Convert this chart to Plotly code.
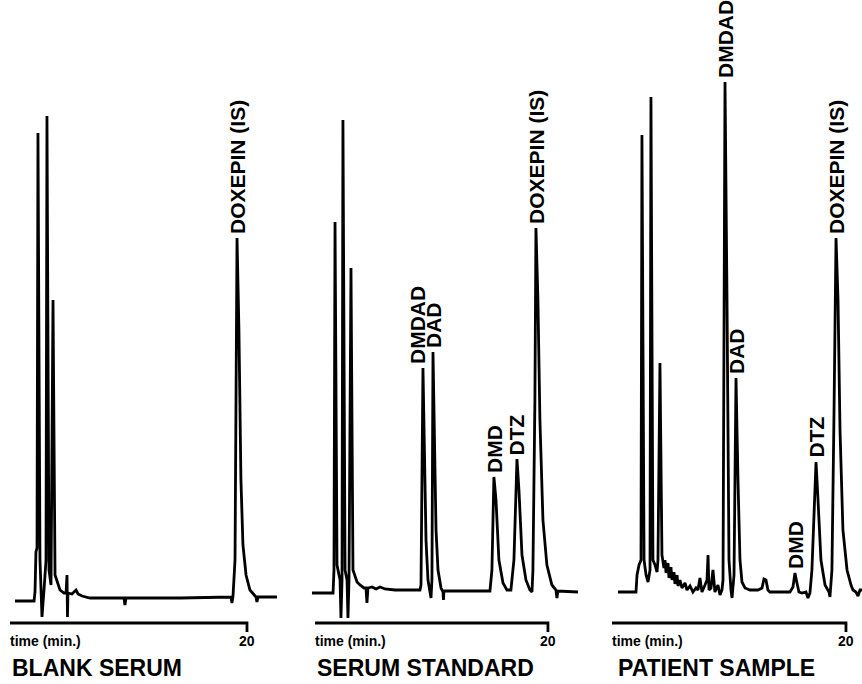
import plotly.graph_objects as go

# ---------------- data (time in min, detector response in arbitrary units) ----------------
blank_time = [0.42, 2.03, 2.11, 2.19, 2.28, 2.36, 2.53, 2.70, 2.87, 3.04, 3.12, 3.29, 3.46, 3.63, 3.80, 3.97,
              4.22, 4.56, 4.73, 4.81, 4.85, 4.89, 5.23, 5.57, 5.74, 6.08, 6.75, 8.44, 9.62, 9.70, 9.79, 14.35,
              18.65, 18.73, 18.82, 18.99, 19.16, 19.32, 19.49, 19.66, 19.92, 20.25, 20.59, 20.76, 20.84, 20.93, 22.53]
blank_signal = [-0.6, -0.6, 1.2, 9.2, 10.0, 93.0, 7.6, -3.8, 1.6, 7.6, 96.4, 5.6, 2.6, 59.6, 4.6, 3.2,
                1.6, 1.0, 1.0, 4.6, -3.8, 1.0, 0.8, 1.6, 0.8, 0.4, 0.0, 0.0, 0.0, -1.4, 0.0, 0.0,
                0.2, -1.0, 0.4, 7.6, 72.0, 53.6, 23.6, 10.6, 4.6, 1.6, 0.6, 0.2, -0.8, 0.2, 0.2]

standard_time = [-0.26, 1.55, 1.63, 1.72, 1.89, 2.15, 2.23, 2.32, 2.40, 2.58, 2.75, 2.83, 2.92, 3.09, 3.26,
                 3.61, 3.86, 4.21, 4.38, 4.46, 4.55, 4.89, 5.24, 5.58, 6.01, 6.87, 9.01, 9.10, 9.27, 9.53,
                 9.70, 9.87, 9.96, 10.04, 10.13, 10.39, 10.56, 10.82, 10.99, 11.03, 11.07, 15.02, 15.19,
                 15.36, 15.54, 15.79, 16.14, 16.48, 16.82, 17.08, 17.25, 17.34, 17.51, 17.77, 18.11, 18.45,
                 18.63, 18.71, 18.88, 18.97, 19.14, 19.31, 19.57, 19.91, 20.34, 20.69, 20.77, 20.86, 22.58]
standard_signal = [1.0, 1.0, 5.6, 75.2, 6.6, 3.6, -4.0, 3.6, 95.6, 5.6, 3.6, -4.0, 3.6, 66.0, 5.6,
                   3.2, 2.6, 2.0, 2.0, -1.0, 2.0, 2.2, 1.8, 2.2, 1.8, 1.6, 1.6, 2.6, 46.0, 11.6,
                   3.6, 1.2, 0.0, 3.6, 49.2, 13.6, 5.6, 2.0, 1.2, -0.4, 1.4, 1.4, 5.6,
                   24.2, 19.6, 7.6, 3.0, 1.6, 1.6, 7.6, 19.6, 27.8, 21.6, 8.6, 3.6, 1.6,
                   1.2, 5.6, 39.6, 74.0, 59.6, 35.6, 15.6, 6.6, 2.6, 1.6, 0.0, 1.4, 1.2]

patient_time = [0.51, 2.05, 2.14, 2.31, 2.48, 2.56, 2.74, 2.91, 3.08, 3.25, 3.33, 3.50, 3.68, 3.85, 3.93,
                4.10, 4.27, 4.44, 4.53, 4.62, 4.79, 4.87, 5.04, 5.13, 5.30, 5.38, 5.56, 5.64, 5.81, 5.98,
                6.24, 6.41, 6.67, 6.92, 7.18, 7.35, 7.52, 7.69, 7.95, 8.12, 8.21, 8.29, 8.46, 8.63, 8.80,
                9.06, 9.23, 9.40, 9.49, 9.66, 9.83, 10.00, 10.17, 10.26, 10.43, 10.60, 10.77, 10.94,
                11.11, 11.37, 11.79, 12.48, 12.82, 12.99, 13.16, 13.33, 13.50, 15.21, 15.47, 15.64,
                15.81, 15.98, 16.24, 16.58, 16.75, 16.92, 17.09, 17.26, 17.44, 17.61, 17.86, 18.21,
                18.55, 18.63, 18.80, 18.97, 19.15, 19.32, 19.49, 19.74, 20.09, 20.43, 20.60, 20.85,
                21.03, 21.20, 21.37]
patient_signal = [1.2, 1.2, 4.6, 6.6, 7.6, 92.6, 7.6, 4.6, 3.2, 5.6, 100.2, 7.6, 6.6, 5.2, 7.6,
                  47.0, 8.6, 6.0, 7.6, 5.0, 7.0, 4.0, 6.2, 3.6, 5.2, 2.8, 4.6, 2.4, 3.6, 2.0,
                  3.0, 1.6, 2.4, 1.2, 2.0, 1.6, 4.0, 1.2, 2.6, 3.6, 8.6, 1.6, 2.0, 5.6, 1.2,
                  2.6, 0.6, 1.6, 3.6, 103.2, 59.6, 7.6, 1.6, 0.0, 4.6, 44.0, 23.6, 7.6,
                  3.2, 2.0, 1.6, 1.6, 2.0, 3.8, 3.6, 1.6, 1.2, 1.2, 2.2, 5.0,
                  3.0, 1.2, 1.0, 1.2, 0.0, 1.0, 5.6, 15.6, 27.2, 19.6, 7.6, 2.6,
                  1.2, 0.2, 5.6, 35.6, 72.0, 59.6, 33.6, 13.6, 5.6, 2.6, 1.6, 1.2,
                  0.4, 1.6, 1.6]

# peak labels: text, retention time, apex height
blank_labels = ["DOXEPIN (IS)"]
blank_label_time = [19.16]
blank_label_height = [72.0]

standard_labels = ["DMDAD", "DAD", "DMD", "DTZ", "DOXEPIN (IS)"]
standard_label_time = [9.27, 10.13, 15.36, 17.34, 18.97]
standard_label_height = [46.0, 49.2, 24.2, 27.8, 74.0]
standard_label_xshift = [-6, 0, 0, 0, 0]

patient_labels = ["DMDAD", "DAD", "DMD", "DTZ", "DOXEPIN (IS)"]
patient_label_time = [9.66, 10.60, 15.64, 17.44, 19.15]
patient_label_height = [103.2, 44.0, 5.0, 27.2, 72.0]

panel_titles = ["BLANK SERUM", "SERUM STANDARD", "PATIENT SAMPLE"]
axis_end_label = "20"
axis_title = "time (min.)"

# ---------------- figure ----------------
W, H = 862, 684
FONT = "Liberation Sans, Arial, Helvetica, sans-serif"
LW = 2.8
axis_level = -5.0
tick_level = -6.8

panels = [
    dict(xa="x", t=blank_time, s=blank_signal, labels=blank_labels, lt=blank_label_time,
         lh=blank_label_height, lx=[0], domain=[0, 290 / W], rng=[-0.844, 23.63]),
    dict(xa="x2", t=standard_time, s=standard_signal, labels=standard_labels, lt=standard_label_time,
         lh=standard_label_height, lx=standard_label_xshift, domain=[295 / W, 590 / W], rng=[-1.717, 23.61]),
    dict(xa="x3", t=patient_time, s=patient_signal, labels=patient_labels, lt=patient_label_time,
         lh=patient_label_height, lx=[0] * 5, domain=[595 / W, 1.0], rng=[-1.453, 21.37]),
]

fig = go.Figure()
annotations = []
for i, p in enumerate(panels):
    fig.add_trace(go.Scatter(x=p["t"], y=p["s"], xaxis=p["xa"], yaxis="y", mode="lines",
                             line=dict(color="black", width=LW), showlegend=False, hoverinfo="skip"))
    # time axis with end tick at 20 min
    fig.add_trace(go.Scatter(x=[0, 20, 20], y=[axis_level, axis_level, tick_level], xaxis=p["xa"], yaxis="y",
                             mode="lines", line=dict(color="black", width=2.8), showlegend=False,
                             hoverinfo="skip"))
    for txt, lt, lh, xs in zip(p["labels"], p["lt"], p["lh"], p["lx"]):
        annotations.append(dict(text="<b>" + txt + "</b>", x=lt, y=lh, xref=p["xa"], yref="y", showarrow=False,
                                textangle=-90, xanchor="center", yanchor="bottom", yshift=2, xshift=xs,
                                font=dict(family=FONT, size=21, color="black")))
    annotations.append(dict(text="<b>" + axis_title + "</b>", x=0, y=-8.6, xref=p["xa"], yref="y",
                            showarrow=False, xanchor="left", yanchor="middle", xshift=-2,
                            font=dict(family=FONT, size=14, color="black")))
    annotations.append(dict(text="<b>" + axis_end_label + "</b>", x=20, y=-8.6, xref=p["xa"], yref="y",
                            showarrow=False, xanchor="center", yanchor="middle",
                            font=dict(family=FONT, size=14, color="black")))
    annotations.append(dict(text=panel_titles[i], x=0, y=-14.0, xref=p["xa"], yref="y",
                            showarrow=False, xanchor="left", yanchor="middle", xshift=(4 if i == 2 else 0),
                            font=dict(family=FONT, size=23, color="black", weight=600)))

layout = dict(
    width=W, height=H, margin=dict(l=0, r=0, t=0, b=0),
    paper_bgcolor="white", plot_bgcolor="white",
    showlegend=False, annotations=annotations,
    yaxis=dict(domain=[0, 1], range=[-17.2, 119.6], visible=False, fixedrange=True),
)
for p in panels:
    key = "xaxis" if p["xa"] == "x" else "xaxis" + p["xa"][1:]
    layout[key] = dict(domain=p["domain"], range=p["rng"], visible=False, anchor="y", fixedrange=True)
fig.update_layout(**layout)

fig.write_html("out.html")
